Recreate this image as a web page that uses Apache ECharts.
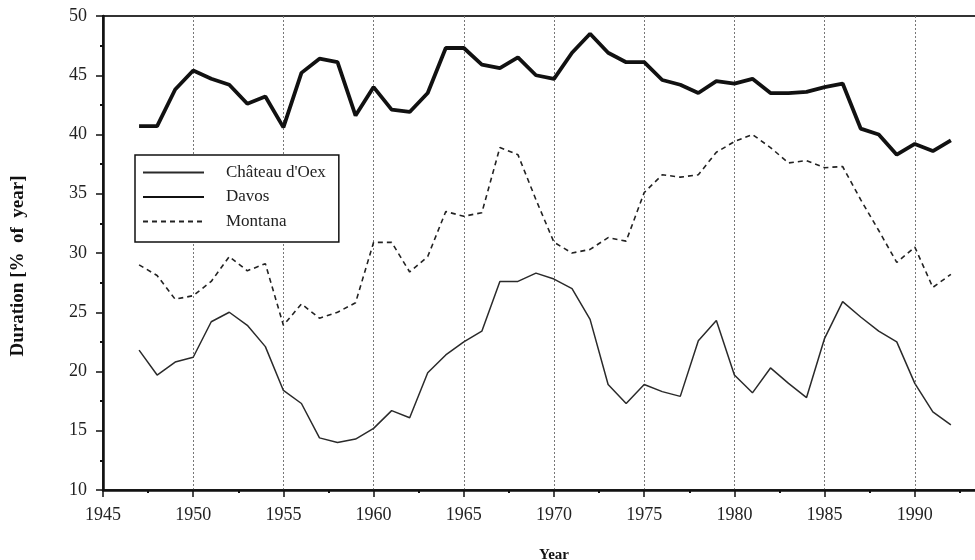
<!DOCTYPE html>
<html>
<head>
<meta charset="utf-8">
<script src="https://cdn.jsdelivr.net/npm/echarts@6/dist/echarts.min.js"></script>
<style>html,body{margin:0;padding:0;background:#fff;}#c{width:975px;height:560px;}</style>
</head>
<body>
<div id="c"></div>
<script>
const years = [1947,1948,1949,1950,1951,1952,1953,1954,1955,1956,1957,1958,1959,1960,1961,1962,1963,1964,1965,1966,1967,1968,1969,1970,1971,1972,1973,1974,1975,1976,1977,1978,1979,1980,1981,1982,1983,1984,1985,1986,1987,1988,1989,1990,1991,1992];
const chateau = [21.8,19.7,20.8,21.2,24.2,25.0,23.9,22.1,18.4,17.3,14.4,14.0,14.3,15.2,16.7,16.1,19.9,21.4,22.5,23.4,27.6,27.6,28.3,27.8,27.0,24.4,18.9,17.3,18.9,18.3,17.9,22.6,24.3,19.7,18.2,20.3,19.0,17.8,22.8,25.9,24.6,23.4,22.5,19.0,16.6,15.5];
const davos = [40.7,40.7,43.8,45.4,44.7,44.2,42.6,43.2,40.6,45.2,46.4,46.1,41.6,44.0,42.1,41.9,43.5,47.3,47.3,45.9,45.6,46.5,45.0,44.7,46.9,48.5,46.9,46.1,46.1,44.6,44.2,43.5,44.5,44.3,44.7,43.5,43.5,43.6,44.0,44.3,40.5,40.0,38.3,39.2,38.6,39.5];
const montana = [29.0,28.1,26.1,26.4,27.6,29.7,28.5,29.1,23.9,25.7,24.5,25.0,25.8,30.9,30.9,28.4,29.7,33.5,33.1,33.4,38.9,38.3,34.5,30.9,30.0,30.3,31.3,31.0,35.1,36.6,36.4,36.6,38.5,39.4,40.0,38.9,37.6,37.8,37.2,37.3,34.5,31.9,29.2,30.5,27.1,28.2];
const seriesNames = ["Château d'Oex", "Davos", "Montana"];
const xTitle = 'Year';
const yTitle = 'Duration [%  of  year]';

const pair = arr => years.map((y, i) => [y, arr[i]]);
const font = "'Liberation Serif', 'DejaVu Serif', serif";

const chart = echarts.init(document.getElementById('c'), null, {renderer: 'canvas'});
chart.setOption({
  animation: false,
  backgroundColor: '#fff',
  textStyle: {fontFamily: font},
  grid: {left: 103, width: 902, top: 16, height: 474, outerBoundsMode: 'none', containLabel: false,
         show: true, borderColor: '#333', borderWidth: 2, backgroundColor: 'transparent'},
  graphic: [{
    type: 'text', x: 18.5, y: 266, rotation: Math.PI / 2,
    style: {text: yTitle, font: "bold 19px 'Liberation Serif', serif", fill: '#111', textAlign: 'center', textVerticalAlign: 'middle'}
  }],
  legend: {
    orient: 'vertical', left: 135, top: 155,
    data: seriesNames,
    backgroundColor: '#fff',
    borderColor: '#111', borderWidth: 1.5, borderRadius: 0,
    padding: [9, 13, 12, 7],
    itemWidth: 61, itemHeight: 17, itemGap: 7.5,
    itemStyle: {opacity: 0},
    textStyle: {fontFamily: font, fontSize: 17, color: '#222', padding: [0, 0, 0, 17]}
  },
  xAxis: {
    type: 'value', min: 1945, max: 1995, interval: 5,
    name: xTitle, nameLocation: 'middle', nameGap: 58,
    nameTextStyle: {fontFamily: font, fontSize: 15, fontWeight: 'bold', color: '#111'},
    axisLine: {lineStyle: {color: '#111', width: 2.5}},
    axisTick: {show: true, length: 7, inside: false, lineStyle: {color: '#111', width: 1.5}},
    minorTick: {show: true, splitNumber: 2, length: 3, lineStyle: {color: '#111', width: 2}},
    axisLabel: {fontFamily: font, fontSize: 18, color: '#222', margin: 16, showMaxLabel: false, formatter: v => String(v)},
    splitLine: {show: true, lineStyle: {color: '#777', type: [2, 2], width: 1}}
  },
  yAxis: {
    type: 'value', min: 10, max: 50, interval: 5,
    axisLine: {show: true, lineStyle: {color: '#111', width: 2.5}},
    axisTick: {show: true, length: 7, lineStyle: {color: '#111', width: 1.5}},
    minorTick: {show: true, splitNumber: 2, length: 3, lineStyle: {color: '#111', width: 2}},
    axisLabel: {fontFamily: font, fontSize: 18, color: '#222', margin: 16},
    splitLine: {show: false}
  },
  series: [
    {name: seriesNames[0], type: 'line', data: pair(chateau), symbol: 'none',
     lineStyle: {color: '#2a2a2a', width: 1.5}, itemStyle: {color: '#2a2a2a'}},
    {name: seriesNames[1], type: 'line', data: pair(davos), symbol: 'none',
     lineStyle: {color: '#111', width: 3.8}, itemStyle: {color: '#111'}},
    {name: seriesNames[2], type: 'line', data: pair(montana), symbol: 'none',
     lineStyle: {color: '#222', width: 1.6, type: [5, 4]}, itemStyle: {color: '#222'}}
  ]
});
</script>
</body>
</html>
